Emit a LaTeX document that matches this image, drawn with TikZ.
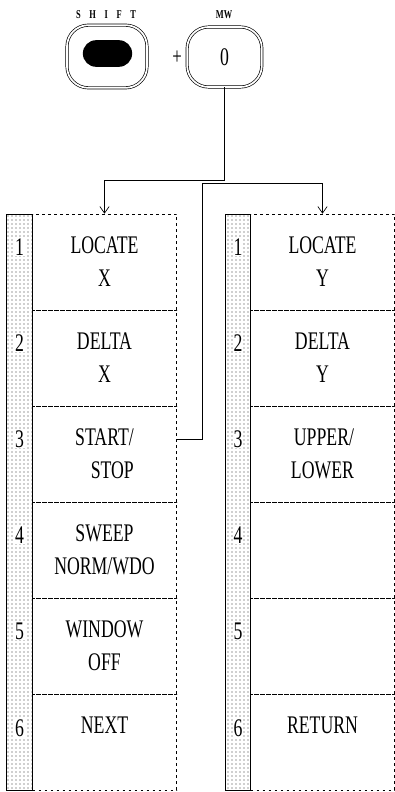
\documentclass[tikz,border=0pt]{standalone}
\usepackage{fontspec}
\newfontfamily\keyfont[FakeStretch=0.7]{Liberation Serif}
\usetikzlibrary{arrows.meta,patterns}

\begin{document}
\begin{tikzpicture}[x=0.75pt, y=-0.75pt,
  cell/.style={draw, dashed, dash pattern=on 2pt off 2.5pt, minimum width=108pt, minimum height=72pt, inner sep=0pt, align=center,
    font=\keyfont\fontsize{19}{24.75}\selectfont},
  strip/.style={draw, line width=0.6pt, pattern=dots, pattern color=black!80, minimum width=19pt, minimum height=432pt, inner sep=0pt},
  num/.style={fill=white, inner sep=0.6pt, font=\keyfont\fontsize{19}{22}\selectfont},
  key/.style={draw, double, double distance=1.3pt, line width=0.5pt, rounded corners=16pt, inner sep=0pt,
    font=\keyfont\fontsize{19}{22}\selectfont},
  keycap/.style={font=\keyfont\bfseries\fontsize{9}{10}\selectfont},
  arr/.style={-{Straight Barb[length=5pt, width=7pt]}, line width=0.5pt}
]
  \useasboundingbox (0,0) rectangle (395,792);

  % keys
  \node[keycap] (shiftcap) at (106,15) {S\hspace{6.5pt}H\hspace{6.5pt}I\hspace{6.5pt}F\hspace{6.5pt}T};
  \node[keycap] (mwcap) at (224,15) {MW};
  \node[key, minimum width=60pt, minimum height=47pt] (shift) at (107,56.5) {};
  \node[fill=black, rounded corners=10pt, minimum width=37pt, minimum height=20pt] (dot) at (107.5,53.5) {};
  \node[font=\keyfont\fontsize{18}{20}\selectfont] (plus) at (177,58) {+};
  \node[key, minimum width=56pt, minimum height=45pt] (mw) at (224.5,57) {0};

  % left menu
  \node[strip] (lstrip) at (19.5,502) {};
  \node[cell] (l1) at (104.5,262) {LOCATE\\X};
  \node[cell] (l2) at (104.5,358) {DELTA\\X};
  \node[cell, align=right] (l3) at (104.5,454) {START/\\STOP};
  \node[cell] (l4) at (104.5,550) {SWEEP\\NORM/WDO};
  \node[cell] (l5) at (104.5,646) {WINDOW\\OFF};
  \node[cell] (l6) at (104.5,742) {NEXT\\~};
  \node[num] (ln1) at (19.5,247) {1};
  \node[num] (ln2) at (19.5,343) {2};
  \node[num] (ln3) at (19.5,439) {3};
  \node[num] (ln4) at (19.5,535) {4};
  \node[num] (ln5) at (19.5,631) {5};
  \node[num] (ln6) at (19.5,728) {6};

  % right menu
  \node[strip] (rstrip) at (238,502) {};
  \node[cell] (r1) at (322.5,262) {LOCATE\\Y};
  \node[cell] (r2) at (322.5,358) {DELTA\\Y};
  \node[cell, align=right] (r3) at (322.5,454) {UPPER/\\LOWER};
  \node[cell] (r4) at (322.5,550) {};
  \node[cell] (r5) at (322.5,646) {};
  \node[cell] (r6) at (322.5,742) {RETURN\\~};
  \node[num] (rn1) at (238,247) {1};
  \node[num] (rn2) at (238,343) {2};
  \node[num] (rn3) at (238,439) {3};
  \node[num] (rn4) at (238,535) {4};
  \node[num] (rn5) at (238,631) {5};
  \node[num] (rn6) at (238,728) {6};

  % connectors
  \coordinate (bend) at (202,183);
  \draw[arr] (mw.south) -- ++(0,93) -| (l1.north);
  \draw[arr] ([yshift=11pt]l3.east) -| (bend) -| (r1.north);
\end{tikzpicture}
\end{document}
